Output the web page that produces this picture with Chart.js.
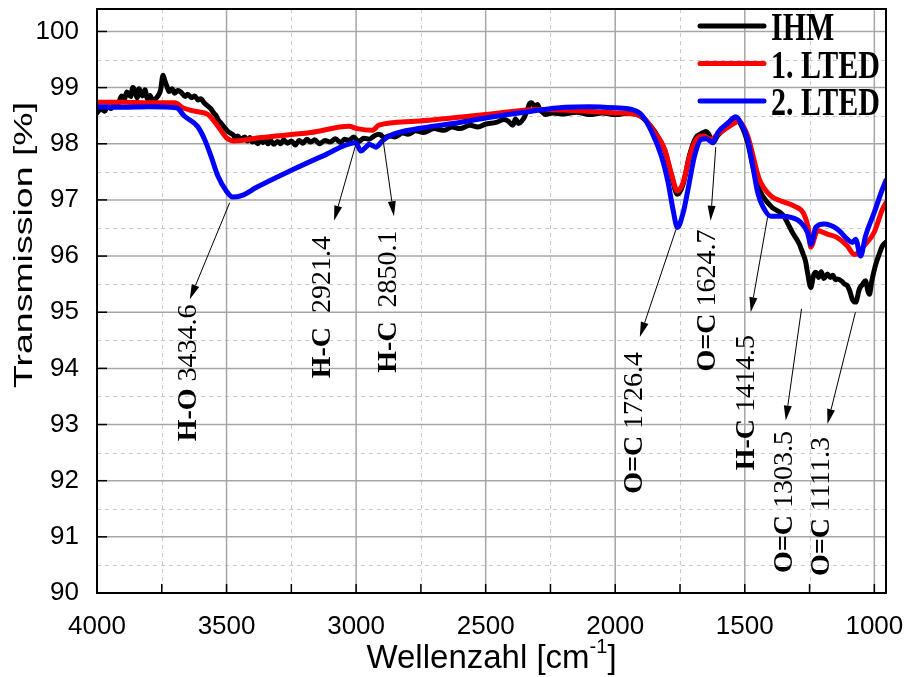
<!DOCTYPE html>
<html>
<head>
<meta charset="utf-8">
<script src="https://cdn.jsdelivr.net/npm/chart.js@4.4.1/dist/chart.umd.min.js"></script>
<style>
  html, body { margin: 0; padding: 0; background: #fff; }
  #wrap { width: 909px; height: 677px; position: relative; }
</style>
</head>
<body>
<div id="wrap"><canvas id="ftirChart"></canvas></div>
<script>
// FTIR spectra (wavenumber in cm-1, transmission in %)

const ihmWave = [4000, 3985, 3970, 3960, 3945, 3930, 3920, 3905, 3895, 3885, 3870, 3862, 3854, 3845, 3838, 3825, 3815, 3805, 3795, 3785, 3777, 3765, 3755, 3745, 3738, 3730, 3722, 3710, 3700, 3688, 3674, 3660, 3650, 3635, 3623, 3610, 3600, 3585, 3572, 3560, 3550, 3540, 3533, 3520, 3510, 3495, 3485, 3475, 3465, 3457, 3445, 3430, 3420, 3410, 3400, 3392, 3380, 3370, 3360, 3350, 3340, 3330, 3318, 3303, 3290, 3280, 3265, 3250, 3235, 3220, 3205, 3190, 3175, 3160, 3140, 3120, 3100, 3080, 3060, 3045, 3027, 3010, 2990, 2970, 2950, 2930, 2912, 2890, 2873, 2850, 2820, 2800, 2770, 2740, 2700, 2660, 2630, 2600, 2560, 2530, 2501, 2460, 2430, 2412, 2395, 2385, 2373, 2360, 2350, 2338, 2330, 2323, 2310, 2300, 2290, 2280, 2270, 2240, 2200, 2150, 2100, 2050, 2001, 1937, 1899, 1848, 1809, 1784, 1760, 1738, 1713, 1690, 1660, 1650, 1640, 1623, 1604, 1560, 1535, 1515, 1489, 1469, 1450, 1431, 1393, 1354, 1316, 1290, 1277, 1265, 1258, 1245, 1235, 1226, 1215, 1205, 1195, 1181, 1170, 1160, 1150, 1143, 1125, 1115, 1104, 1095, 1085, 1072, 1058, 1045, 1034, 1025, 1019, 1010, 996, 980, 969, 955];
const ihmT = [98.55, 98.62, 98.58, 98.66, 98.63, 98.72, 98.70, 98.85, 98.78, 98.92, 98.84, 99.00, 98.95, 98.82, 98.98, 98.85, 98.96, 98.80, 98.86, 98.76, 98.79, 98.85, 98.95, 99.22, 99.12, 99.02, 98.93, 98.98, 98.90, 98.95, 98.91, 98.84, 98.88, 98.82, 98.85, 98.78, 98.80, 98.72, 98.67, 98.62, 98.55, 98.50, 98.43, 98.36, 98.30, 98.22, 98.19, 98.16, 98.10, 98.14, 98.08, 98.12, 98.05, 98.11, 98.03, 98.07, 98.00, 98.08, 98.02, 98.06, 98.00, 98.06, 97.99, 98.04, 98.00, 98.07, 98.01, 98.05, 97.98, 98.06, 98.01, 98.08, 98.03, 98.07, 98.00, 98.06, 98.03, 98.09, 98.02, 98.08, 98.06, 98.12, 98.04, 98.10, 98.08, 98.14, 98.17, 98.11, 98.14, 98.12, 98.19, 98.17, 98.23, 98.20, 98.27, 98.24, 98.30, 98.27, 98.33, 98.30, 98.35, 98.38, 98.43, 98.40, 98.33, 98.44, 98.36, 98.41, 98.48, 98.62, 98.72, 98.73, 98.66, 98.70, 98.60, 98.56, 98.52, 98.55, 98.53, 98.56, 98.52, 98.55, 98.52, 98.55, 98.48, 98.22, 97.88, 97.45, 97.10, 97.28, 97.80, 98.10, 98.20, 98.22, 98.18, 98.02, 98.15, 98.33, 98.45, 98.34, 98.02, 97.60, 97.25, 97.07, 96.86, 96.74, 96.42, 96.22, 96.06, 95.90, 95.71, 95.44, 95.65, 95.71, 95.62, 95.72, 95.60, 95.68, 95.62, 95.66, 95.58, 95.59, 95.55, 95.50, 95.47, 95.38, 95.23, 95.18, 95.41, 95.50, 95.56, 95.38, 95.32, 95.55, 95.83, 96.05, 96.18, 96.25];

const lted1Wave = [4000, 3900, 3800, 3700, 3669, 3623, 3572, 3533, 3501, 3469, 3367, 3175, 3027, 2996, 2938, 2912, 2771, 2501, 2296, 2001, 1899, 1848, 1809, 1784, 1760, 1738, 1713, 1687, 1662, 1630, 1604, 1540, 1525, 1489, 1444, 1399, 1360, 1309, 1271, 1252, 1246, 1219, 1181, 1143, 1104, 1078, 1060, 1040, 1001, 969, 955];
const lted1T = [98.74, 98.74, 98.73, 98.73, 98.64, 98.58, 98.52, 98.31, 98.11, 98.05, 98.11, 98.20, 98.31, 98.27, 98.24, 98.33, 98.40, 98.52, 98.61, 98.55, 98.49, 98.20, 97.90, 97.48, 97.16, 97.31, 97.78, 98.08, 98.14, 98.08, 98.17, 98.37, 98.40, 98.14, 97.37, 97.07, 96.98, 96.89, 96.74, 96.42, 96.16, 96.45, 96.39, 96.33, 96.18, 96.03, 96.06, 96.18, 96.42, 96.83, 96.95];

const lted2Wave = [4000, 3900, 3800, 3694, 3662, 3612, 3585, 3560, 3533, 3501, 3477, 3440, 3386, 3258, 3130, 3001, 2982, 2960, 2950, 2924, 2899, 2873, 2746, 2600, 2501, 2323, 2194, 2100, 2001, 1937, 1899, 1860, 1822, 1796, 1777, 1760, 1738, 1719, 1694, 1668, 1649, 1623, 1604, 1565, 1535, 1515, 1489, 1469, 1450, 1431, 1399, 1360, 1322, 1284, 1258, 1245, 1226, 1194, 1143, 1104, 1085, 1072, 1053, 1034, 1001, 969, 955];
const lted2T = [98.66, 98.65, 98.66, 98.64, 98.49, 98.31, 98.08, 97.78, 97.42, 97.16, 97.05, 97.08, 97.22, 97.51, 97.78, 98.02, 97.87, 97.95, 97.99, 97.94, 98.05, 98.14, 98.28, 98.38, 98.46, 98.58, 98.65, 98.66, 98.64, 98.61, 98.52, 98.22, 97.78, 97.31, 96.83, 96.51, 96.77, 97.19, 97.78, 98.08, 98.09, 98.02, 98.20, 98.37, 98.48, 98.37, 98.08, 97.60, 97.13, 96.89, 96.71, 96.71, 96.69, 96.60, 96.42, 96.21, 96.51, 96.57, 96.48, 96.30, 96.24, 96.30, 96.00, 96.36, 96.77, 97.19, 97.35];

const seriesNames = ['IHM', '1. LTED', '2. LTED'];

// axis ticks
const xMajorTicks = [4000, 3500, 3000, 2500, 2000, 1500, 1000];
const xMinorTicks = [3750, 3250, 2750, 2250, 1750, 1250];
const yMajorTicks = [90, 91, 92, 93, 94, 95, 96, 97, 98, 99, 100];
const yMinorTicks = [90.5, 91.5, 92.5, 93.5, 94.5, 95.5, 96.5, 97.5, 98.5, 99.5];

// peak labels: bold group, wavenumber text
const peakGroups = ['H-O', 'H-C', 'H-C', 'O=C', 'O=C', 'H-C', 'O=C', 'O=C'];
const peakNumbers = [' 3434.6', '  2921.4', '  2850.1', ' 1726.4', ' 1624.7', ' 1414.5', ' 1303.5', ' 1111.3'];

// where each label sits, in axis units: arrow start, arrow tip, text centre
const peakPlacement = [
  { from: [3488, 96.95], tip: [3642, 95.23], text: [3654, 93.92] },
  { from: [3001, 97.99], tip: [3085, 96.63], text: [3135, 95.09] },
  { from: [2900, 98.20], tip: [2854, 96.71], text: [2881, 95.19] },
  { from: [1765, 96.48], tip: [1905, 94.56], text: [1931, 93.03] },
  { from: [1612, 97.94], tip: [1632, 96.63], text: [1650, 95.21] },
  { from: [1412, 96.69], tip: [1477, 95.00], text: [1500, 93.39] },
  { from: [1281, 95.06], tip: [1342, 93.07], text: [1354, 91.62] },
  { from: [1073, 95.00], tip: [1181, 93.01], text: [1208, 91.54] }
];

const SANS = '"Liberation Sans", Arial, sans-serif';
const SERIF = '"Liberation Serif", "Times New Roman", serif';

function toPoints(xs, ys) {
  return xs.map((x, i) => ({ x: x, y: ys[i] }));
}

function line(ctx, x1, y1, x2, y2) {
  ctx.beginPath();
  ctx.moveTo(x1, y1);
  ctx.lineTo(x2, y2);
  ctx.stroke();
}

// grid (dashed minor, solid major) under the spectra
const gridPlugin = {
  id: 'originGrid',
  beforeDatasetsDraw(chart) {
    const { ctx, chartArea: a, scales: { x, y } } = chart;
    ctx.save();
    ctx.lineWidth = 1;
    ctx.strokeStyle = '#c9c9c9';
    ctx.setLineDash([4, 4]);
    xMinorTicks.forEach(v => {
      const px = Math.round(x.getPixelForValue(v)) + 0.5;
      line(ctx, px, a.top, px, a.bottom);
    });
    yMinorTicks.forEach(v => {
      const py = Math.round(y.getPixelForValue(v)) + 0.5;
      line(ctx, a.left, py, a.right, py);
    });
    ctx.setLineDash([]);
    ctx.strokeStyle = '#a6a6a6';
    ctx.lineWidth = 1.5;
    xMajorTicks.forEach(v => {
      const px = x.getPixelForValue(v);
      line(ctx, px, a.top, px, a.bottom);
    });
    yMajorTicks.forEach(v => {
      const py = y.getPixelForValue(v);
      line(ctx, a.left, py, a.right, py);
    });
    ctx.restore();
  }
};

function arrow(ctx, x1, y1, x2, y2) {
  const ang = Math.atan2(y2 - y1, x2 - x1);
  const len = 15, half = 4;
  ctx.beginPath();
  ctx.moveTo(x1, y1);
  ctx.lineTo(x2 - Math.cos(ang) * len, y2 - Math.sin(ang) * len);
  ctx.stroke();
  ctx.beginPath();
  ctx.moveTo(x2, y2);
  ctx.lineTo(x2 - Math.cos(ang) * len - Math.sin(ang) * half, y2 - Math.sin(ang) * len + Math.cos(ang) * half);
  ctx.lineTo(x2 - Math.cos(ang) * len + Math.sin(ang) * half, y2 - Math.sin(ang) * len - Math.cos(ang) * half);
  ctx.closePath();
  ctx.fill();
}

// frame, inward ticks, peak labels, legend and axis titles
const decorPlugin = {
  id: 'originDecor',
  afterDatasetsDraw(chart) {
    const { ctx, chartArea: a, scales: { x, y } } = chart;
    ctx.save();
    ctx.fillStyle = '#000';
    ctx.strokeStyle = '#000';

    // peak arrows and labels
    ctx.lineWidth = 1;
    peakPlacement.forEach((p, i) => {
      arrow(ctx,
        x.getPixelForValue(p.from[0]), y.getPixelForValue(p.from[1]),
        x.getPixelForValue(p.tip[0]), y.getPixelForValue(p.tip[1]));
      const cx = x.getPixelForValue(p.text[0]);
      const cy = y.getPixelForValue(p.text[1]);
      ctx.save();
      ctx.translate(cx + 9, cy);
      ctx.rotate(-Math.PI / 2);
      ctx.textBaseline = 'alphabetic';
      ctx.textAlign = 'left';
      ctx.font = 'bold 28px ' + SERIF;
      const wb = ctx.measureText(peakGroups[i]).width;
      ctx.font = '28px ' + SERIF;
      const wn = ctx.measureText(peakNumbers[i]).width;
      const sx = -(wb + wn) / 2;
      ctx.font = 'bold 28px ' + SERIF;
      ctx.fillText(peakGroups[i], sx, 0);
      ctx.font = '28px ' + SERIF;
      ctx.fillText(peakNumbers[i], sx + wb, 0);
      ctx.restore();
    });

    // legend, top right inside the frame
    chart.data.datasets.forEach((ds, i) => {
      const ly = a.top + 17 + i * 37.5;
      ctx.strokeStyle = ds.borderColor;
      ctx.lineWidth = 5;
      ctx.lineCap = 'round';
      line(ctx, a.right - 186, ly, a.right - 122, ly);
      ctx.save();
      ctx.translate(a.right - 115, ly + 14);
      ctx.scale(1, 1.3);
      ctx.font = 'bold 30px ' + SERIF;
      ctx.textAlign = 'left';
      ctx.textBaseline = 'alphabetic';
      ctx.fillText(ds.label, 0, 0);
      ctx.restore();
    });
    ctx.lineCap = 'butt';

    // inward ticks
    ctx.strokeStyle = '#000';
    ctx.lineWidth = 1.5;
    yMajorTicks.forEach(v => {
      const py = y.getPixelForValue(v);
      line(ctx, a.left, py, a.left + 10, py);
    });
    xMajorTicks.concat(xMinorTicks).forEach(v => {
      const px = x.getPixelForValue(v);
      line(ctx, px, a.bottom, px, a.bottom - 9);
    });

    // frame
    ctx.lineWidth = 2;
    ctx.strokeRect(a.left, a.top, a.width, a.height);

    // y title, stretched along its length like the reference
    ctx.save();
    ctx.translate(32, 245);
    ctx.rotate(-Math.PI / 2);
    ctx.scale(1.5, 1);
    ctx.font = '25px ' + SANS;
    ctx.textAlign = 'center';
    ctx.textBaseline = 'alphabetic';
    ctx.fillText('Transmission [%]', 0, 0);
    ctx.restore();

    // x title with superscript
    const t1 = 'Wellenzahl [cm', t2 = '-1', t3 = ']';
    ctx.font = '33px ' + SANS;
    const w1 = ctx.measureText(t1).width, w3 = ctx.measureText(t3).width;
    ctx.font = '20px ' + SANS;
    const w2 = ctx.measureText(t2).width;
    const tx = (a.left + a.right) / 2 - (w1 + w2 + w3) / 2;
    const base = 668;
    ctx.textAlign = 'left';
    ctx.textBaseline = 'alphabetic';
    ctx.font = '33px ' + SANS;
    ctx.fillText(t1, tx, base);
    ctx.font = '20px ' + SANS;
    ctx.fillText(t2, tx + w1, base - 15);
    ctx.font = '33px ' + SANS;
    ctx.fillText(t3, tx + w1 + w2, base);
    ctx.restore();
  }
};

const ctx = document.getElementById('ftirChart').getContext('2d');
new Chart(ctx, {
  type: 'line',
  data: {
    datasets: [
      { label: seriesNames[0], data: toPoints(ihmWave, ihmT), borderColor: '#000000', order: 3 },
      { label: seriesNames[1], data: toPoints(lted1Wave, lted1T), borderColor: '#ff0000', order: 2 },
      { label: seriesNames[2], data: toPoints(lted2Wave, lted2T), borderColor: '#0000ff', order: 1 }
    ]
  },
  options: {
    responsive: true,
    maintainAspectRatio: false,
    animation: false,
    devicePixelRatio: 1,
    layout: { padding: { left: 0, top: 9, right: 23, bottom: 0 } },
    elements: {
      point: { radius: 0 },
      line: { borderWidth: 5, tension: 0, cubicInterpolationMode: 'monotone', borderJoinStyle: 'round', borderCapStyle: 'round' }
    },
    plugins: {
      legend: { display: false },
      tooltip: { enabled: false }
    },
    scales: {
      x: {
        type: 'linear',
        reverse: true,
        min: 955,
        max: 4000,
        grid: { display: false },
        border: { display: false },
        afterBuildTicks: s => { s.ticks = xMajorTicks.map(v => ({ value: v })); },
        afterFit: s => { s.height = 84; s.paddingLeft = 0; s.paddingRight = 0; },
        ticks: {
          color: '#000',
          padding: 10,
          autoSkip: false,
          maxRotation: 0,
          font: { family: SANS, size: 26 },
          callback: v => String(v)
        }
      },
      y: {
        min: 90,
        max: 100.4,
        grid: { display: false },
        border: { display: false },
        afterBuildTicks: s => { s.ticks = yMajorTicks.map(v => ({ value: v })); },
        afterFit: s => { s.width = 97; s.paddingTop = 0; s.paddingBottom = 0; },
        ticks: {
          color: '#000',
          padding: 10,
          font: { family: SANS, size: 26 },
          callback: v => String(v)
        }
      }
    }
  },
  plugins: [gridPlugin, decorPlugin]
});
</script>
</body>
</html>
